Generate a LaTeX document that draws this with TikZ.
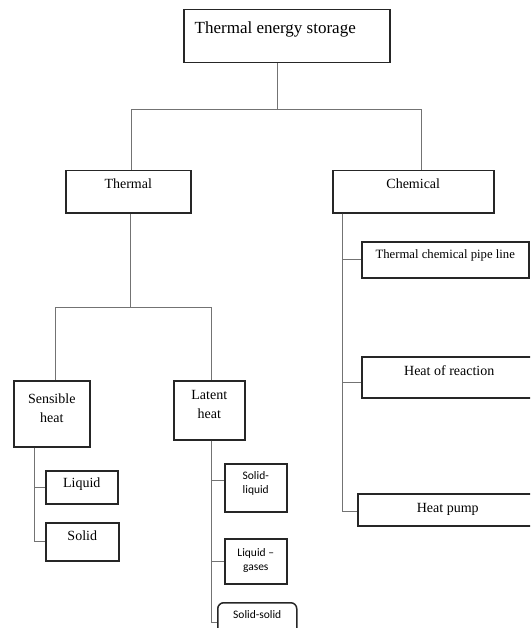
\documentclass[tikz,border=0pt]{standalone}
\usepackage{fontspec}
\setmainfont{Liberation Serif}
\newfontfamily\calib{Carlito}
\usetikzlibrary{positioning}

\begin{document}
\begin{tikzpicture}[x=1pt,y=-1pt,
		box/.style={draw=black!85,line width=1.5pt,inner sep=0pt,anchor=north west,align=center,font=\fontsize{14}{19}\selectfont},
		small/.style={box,font=\calib\fontsize{11.5}{14}\selectfont},
		link/.style={draw=black!55,line width=0.8pt}]
		\useasboundingbox (0,0) rectangle (530,628);
		\clip (0,0) rectangle (530,628);
		\node[box,minimum width=206pt,text height=24pt,text depth=29pt,font=\fontsize{17}{20}\selectfont] (tes) at (183,9) {Thermal energy storage\hspace*{23pt}};
		\node[box,minimum width=125pt,text height=18pt,text depth=24pt] (thermal) at (65,170) {Thermal};
		\node[box,minimum width=161pt,text height=18pt,text depth=24pt] (chemical) at (332,170) {Chemical};
		\node[box,minimum width=76pt,text height=42pt,text depth=24pt] (sensible) at (13,380) {Sensible\\heat};
		\node[box,minimum width=71pt,text height=38pt,text depth=21pt] (latent) at (173,380) {Latent\\heat};
		\node[box,minimum width=72pt,text height=17pt,text depth=16pt] (liquid) at (45,470) {Liquid};
		\node[box,minimum width=73pt,text height=18pt,text depth=20pt] (solid) at (45,522) {Solid};
		\node[small,minimum width=62pt,text height=30pt,text depth=18pt] (solliq) at (224,463) {Solid-\\liquid};
		\node[small,minimum width=62pt,text height=32pt,text depth=13pt] (liqgas) at (224,538) {Liquid –\\gases};
		\node[small,rounded corners=6pt,minimum width=79pt,text height=16pt,text depth=24pt] (solsol) at (217,602) {Solid-solid};
		\node[box,minimum width=167pt,text height=17pt,text depth=19pt,font=\fontsize{12.7}{15}\selectfont] (pipe) at (361,241) {Thermal chemical pipe line};
		\node[box,minimum width=175pt,text height=19pt,text depth=22pt] (reaction) at (361,356) {Heat of reaction};
		\node[box,minimum width=180pt,text height=19pt,text depth=13pt] (pump) at (357,493) {Heat pump};
		\draw[link] ([xshift=-9pt]tes.south) -- ++(0,46) coordinate (top);
		\draw[link] (top) -| ([xshift=3.5pt]thermal.north);
		\draw[link] (top) -| ([xshift=8.5pt]chemical.north);
		\draw[link] ([xshift=2.5pt]thermal.south) -- ++(0,94) coordinate (mid);
		\draw[link] (mid) -| ([xshift=4pt]sensible.north);
		\draw[link] (mid) -| ([xshift=2.5pt]latent.north);
		\draw[link] ([xshift=-17pt]sensible.south) |- (liquid.west);
		\draw[link] ([xshift=-17pt]sensible.south) |- (solid.west);
		\draw[link] ([xshift=2.5pt]latent.south) |- ([yshift=7pt]solliq.west);
		\draw[link] ([xshift=2.5pt]latent.south) |- (liqgas.west);
		\draw[link] ([xshift=2.5pt]latent.south) |- (solsol.west);
		\draw[link] ([xshift=-70.5pt]chemical.south) |- (pipe.west);
		\draw[link] ([xshift=-70.5pt]chemical.south) |- ([yshift=-5.5pt]reaction.west);
		\draw[link] ([xshift=-70.5pt]chemical.south) |- ([yshift=-2pt]pump.west);
	\end{tikzpicture}
\end{document}
